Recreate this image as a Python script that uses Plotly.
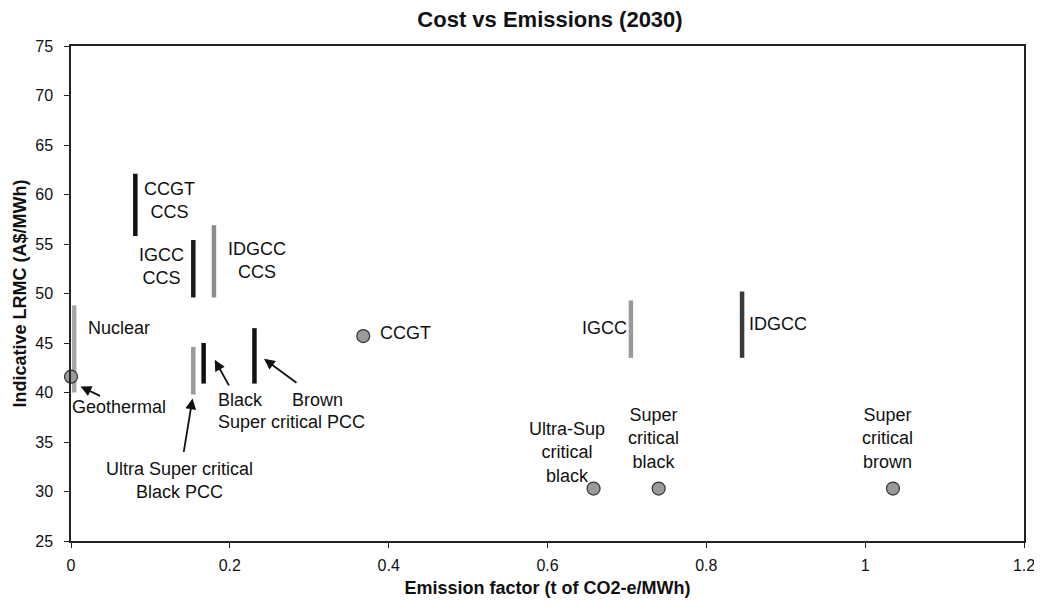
import plotly.graph_objects as go

# ---- data ----
bar_names = ["CCGT CCS", "IGCC CCS", "IDGCC CCS", "Nuclear",
             "Ultra Super critical Black PCC", "Black Super critical PCC",
             "Brown Super critical PCC", "IGCC", "IDGCC"]
bar_x = [0.081, 0.154, 0.180, 0.004, 0.154, 0.167, 0.231, 0.705, 0.845]
bar_low = [55.8, 49.6, 49.6, 40.0, 39.8, 40.9, 40.9, 43.5, 43.5]
bar_high = [62.1, 55.4, 56.9, 48.8, 44.6, 45.0, 46.5, 49.3, 50.2]

point_names = ["Geothermal", "CCGT", "Ultra-Sup critical black",
               "Super critical black", "Super critical brown"]
point_x = [0.0, 0.368, 0.658, 0.740, 1.035]
point_y = [41.6, 45.7, 30.3, 30.3, 30.3]

x_ticks = [0, 0.2, 0.4, 0.6, 0.8, 1, 1.2]
x_tick_labels = ["0", "0.2", "0.4", "0.6", "0.8", "1", "1.2"]
y_ticks = [25, 30, 35, 40, 45, 50, 55, 60, 65, 70, 75]

# ---- styles ----
bar_colors = {
    "CCGT CCS": "#111111", "IGCC CCS": "#1a1a1a", "IDGCC CCS": "#8c8c8c",
    "Nuclear": "#a6a6a6", "Ultra Super critical Black PCC": "#999999",
    "Black Super critical PCC": "#111111", "Brown Super critical PCC": "#111111",
    "IGCC": "#9a9a9a", "IDGCC": "#3a3a3a",
}
FONT = "Arial, Liberation Sans, sans-serif"
LABEL_SIZE = 18
# the page body has an 8px margin, so the figure is sized/offset to compensate
W, H = 1034, 605

fig = go.Figure()
for n, x, lo, hi in zip(bar_names, bar_x, bar_low, bar_high):
    fig.add_trace(go.Scatter(x=[x, x], y=[lo, hi], mode="lines", name=n,
                             line=dict(color=bar_colors[n], width=4.5),
                             showlegend=False, hoverinfo="name"))
fig.add_trace(go.Scatter(x=point_x, y=point_y, mode="markers", text=point_names,
                         marker=dict(size=13, color="#9a9a9a",
                                     line=dict(color="#333333", width=1.2)),
                         showlegend=False, hoverinfo="text", cliponaxis=False))

labels = [
    ("CCGT<br>CCS", 0.091, 59.4, "left"),
    ("IGCC<br>CCS", 0.143, 52.7, "right"),
    ("IDGCC<br>CCS", 0.196, 53.3, "left"),
    ("Nuclear", 0.020, 46.55, "left"),
    ("Geothermal", 0.000, 38.5, "left"),
    ("Black", 0.213, 39.25, "center"),
    ("Brown", 0.311, 39.25, "center"),
    ("Super critical PCC", 0.278, 37.0, "center"),
    ("Ultra Super critical<br>Black PCC", 0.137, 31.1, "center"),
    ("CCGT", 0.388, 46.0, "left"),
    ("IGCC", 0.701, 46.5, "right"),
    ("IDGCC", 0.852, 46.9, "left"),
    ("Ultra-Sup<br>critical<br>black", 0.625, 33.9, "center"),
    ("Super<br>critical<br>black", 0.734, 35.4, "center"),
    ("Super<br>critical<br>brown", 1.028, 35.4, "center"),
]
for t, x, y, xa in labels:
    fig.add_annotation(x=x, y=y, text=t, showarrow=False, xanchor=xa,
                       yanchor="middle", align="center", borderpad=0,
                       font=dict(family=FONT, size=LABEL_SIZE, color="#111111"))

arrows = [(0.012, 40.6, 21, 10), (0.153, 39.4, -9, 55),
          (0.181, 43.3, 15, 27), (0.243, 43.4, 34, 25)]
for x, y, ax, ay in arrows:
    fig.add_annotation(x=x, y=y, ax=ax, ay=ay, text="", showarrow=True,
                       arrowhead=2, arrowsize=1.2, arrowwidth=1.8,
                       arrowcolor="#111111")

fig.update_layout(
    width=W, height=H,
    margin=dict(l=63, r=18, t=38, b=72, autoexpand=False),
    paper_bgcolor="white", plot_bgcolor="white",
    title=dict(text="<b>Cost vs Emissions (2030)</b>", x=542 / W, xanchor="center",
               xref="container", y=1 - 11 / H, yanchor="middle", yref="container",
               font=dict(family=FONT, size=22, color="#111111")),
    font=dict(family=FONT, size=16, color="#111111"),
)
fig.update_xaxes(range=[0, 1.2], tickvals=x_ticks, ticktext=x_tick_labels,
                 automargin=False, tickfont=dict(size=16), ticklabelstandoff=4,
                 showgrid=False, zeroline=False, showline=True, linecolor="#222222",
                 linewidth=1.5, mirror=True, ticks="outside", ticklen=5,
                 tickcolor="#222222",
                 title=dict(text="<b>Emission factor (t of CO2-e/MWh)</b>",
                            font=dict(family=FONT, size=18), standoff=8))
fig.update_yaxes(range=[25, 75], tickvals=y_ticks, showgrid=False, zeroline=False,
                 automargin=False, tickfont=dict(size=16), ticklabelstandoff=8,
                 showline=True, linecolor="#222222", linewidth=1.5, mirror=True,
                 ticks="outside", ticklen=5, tickcolor="#222222",
                 title=dict(text="<b>Indicative LRMC (A$/MWh)</b>",
                            font=dict(family=FONT, size=18), standoff=4))

fig.write_html("out.html")
